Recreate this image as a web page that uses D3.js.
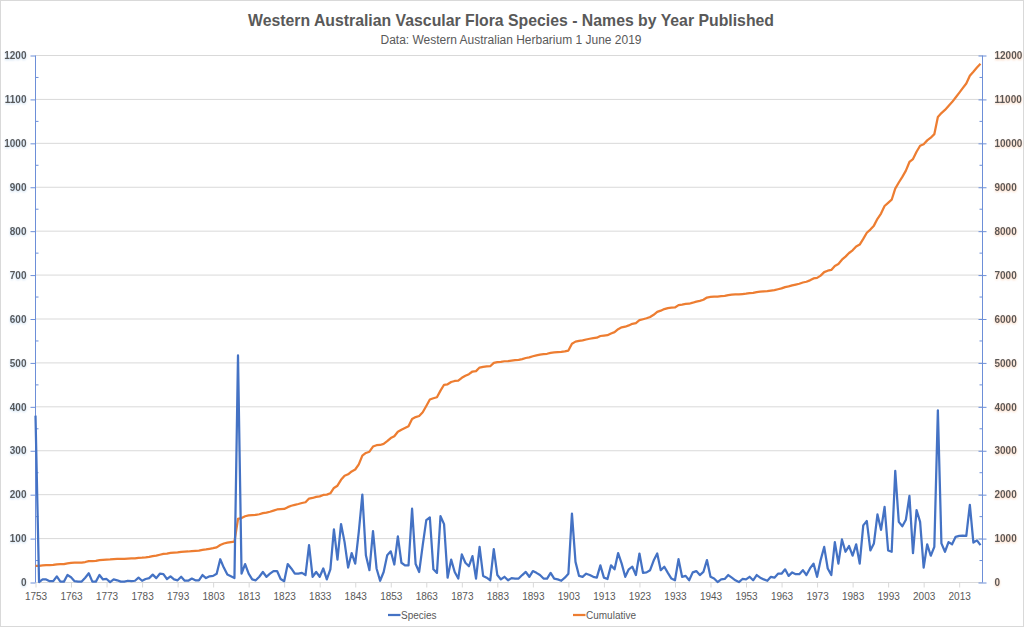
<!DOCTYPE html>
<html><head><meta charset="utf-8">
<script src="https://cdn.jsdelivr.net/npm/d3@7/dist/d3.min.js"></script>
<style>body{margin:0;background:#fff}svg{display:block}</style>
</head><body><svg id="c" width="1024" height="628"></svg>
<script>
const startYear = 1753;
const species = [
380,1,7,7,3,3,14,2,2,17,
12,3,2,2,11,21,2,2,17,7,
8,1,7,5,2,2,4,3,4,11,
4,8,10,18,10,20,19,8,14,7,
5,13,4,4,9,5,5,17,10,14,
15,20,53,34,18,14,10,517,20,42,
20,7,5,13,24,13,20,26,26,8,
3,42,32,20,20,22,17,85,13,24,
13,32,7,30,121,52,133,92,34,67,
43,115,200,62,28,117,32,4,24,62,
71,41,105,45,39,39,168,42,24,85,
142,148,30,22,151,133,11,52,24,9,
64,45,37,60,9,81,15,11,5,76,
17,7,13,5,10,9,9,17,24,13,
26,22,17,9,9,22,9,7,4,11,
20,157,47,15,13,20,17,13,11,39,
11,8,39,30,67,43,13,30,36,17,
66,22,23,28,50,66,28,36,22,9,
5,53,13,15,5,23,26,17,24,51,
13,9,1,7,8,17,11,5,1,8,
7,13,5,17,11,7,4,13,11,20,
20,30,15,23,19,19,28,17,32,43,
13,51,81,32,17,92,43,98,70,83,
61,87,43,130,140,73,89,155,120,172,
73,70,254,138,128,143,197,67,165,138,
34,87,61,81,392,89,70,92,87,104,
106,107,106,177,91,96,85];
const cumulative = [
380,381,388,395,398,401,415,417,419,436,
448,451,453,455,466,487,489,491,508,515,
523,524,531,536,538,540,544,547,551,562,
566,574,584,602,612,632,651,659,673,680,
685,698,702,706,715,720,725,742,752,766,
781,801,854,888,906,920,930,1447,1467,1509,
1529,1536,1541,1554,1578,1591,1611,1637,1663,1671,
1674,1716,1748,1768,1788,1810,1827,1912,1925,1949,
1962,1994,2001,2031,2152,2204,2337,2429,2463,2530,
2573,2688,2888,2950,2978,3095,3127,3131,3155,3217,
3288,3329,3434,3479,3518,3557,3725,3767,3791,3876,
4018,4166,4196,4218,4369,4502,4513,4565,4589,4598,
4662,4707,4744,4804,4813,4894,4909,4920,4925,5001,
5018,5025,5038,5043,5053,5062,5071,5088,5112,5125,
5151,5173,5190,5199,5208,5230,5239,5246,5250,5261,
5281,5438,5485,5500,5513,5533,5550,5563,5574,5613,
5624,5632,5671,5701,5768,5811,5824,5854,5890,5907,
5973,5995,6018,6046,6096,6162,6190,6226,6248,6257,
6262,6315,6328,6343,6348,6371,6397,6414,6438,6489,
6502,6511,6512,6519,6527,6544,6555,6560,6561,6569,
6576,6589,6594,6611,6622,6629,6633,6646,6657,6677,
6697,6727,6742,6765,6784,6803,6831,6848,6880,6923,
6936,6987,7068,7100,7117,7209,7252,7350,7420,7503,
7564,7651,7694,7824,7964,8037,8126,8281,8401,8573,
8646,8716,8970,9108,9236,9379,9576,9643,9808,9946,
9980,10067,10128,10209,10601,10690,10760,10852,10939,11043,
11149,11256,11362,11539,11630,11726,11811];
const years = species.map((d, i) => startYear + i);
const xTickYears = [1753,1763,1773,1783,1793,1803,1813,1823,1833,1843,1853,1863,1873,1883,1893,1903,1913,1923,1933,1943,1953,1963,1973,1983,1993,2003,2013];
const leftTicks = [0,100,200,300,400,500,600,700,800,900,1000,1100,1200];
const rightTicks = [0,1000,2000,3000,4000,5000,6000,7000,8000,9000,10000,11000,12000];
const seriesNames = ["Species", "Cumulative"];
const colors = ["#4472C4", "#ED7D31"];
const titleText = "Western Australian Vascular Flora Species - Names by Year Published";
const subtitleText = "Data: Western Australian Herbarium 1 June 2019";

const svg = d3.select("#c");
const font = "'Liberation Sans', Arial, sans-serif";
const x = d3.scaleLinear().domain([1753, 2019]).range([35.5, 980.5]);
const yL = d3.scaleLinear().domain([0, 1200]).range([582.5, 55.5]);
const yR = d3.scaleLinear().domain([0, 12000]).range([582.5, 55.5]);
const xLeft = 35.5, xRight = 982.5;
const fmt = d3.format("d");

const defs = svg.append("defs");
function glow(id, col) {
  const f = defs.append("filter").attr("id", id).attr("x", "-20%").attr("y", "-40%").attr("width", "140%").attr("height", "180%");
  f.append("feDropShadow").attr("dx", 0).attr("dy", 1).attr("stdDeviation", 1).attr("flood-color", col).attr("flood-opacity", 0.6);
}
glow("gb", "#9dc3e6");
glow("go", "#f4b183");

// border
svg.append("rect").attr("x", 0.5).attr("y", 0.5).attr("width", 1023).attr("height", 626).attr("fill", "#fff").attr("stroke", "#d9d9d9");

// gridlines
svg.append("g").selectAll("line").data(leftTicks.filter(d => d > 0)).join("line")
  .attr("x1", xLeft).attr("x2", xRight).attr("y1", d => yL(d)).attr("y2", d => yL(d))
  .attr("stroke", "#d9d9d9").attr("stroke-width", 1);

// x axis
const xAxis = d3.axisBottom(x).tickValues(xTickYears).tickFormat(fmt).tickSize(5).tickPadding(5);
const gx = svg.append("g").attr("transform", "translate(0,582.5)").call(xAxis);
gx.select(".domain").attr("stroke", "#d9d9d9").attr("d", `M${xLeft},0H${xRight}`);
gx.selectAll(".tick line").attr("stroke", "#d9d9d9");
gx.selectAll("text").attr("fill", "#595959").attr("font-family", font).attr("font-size", 10);

// left axis
const gl = svg.append("g").attr("transform", `translate(${xLeft},0)`)
  .call(d3.axisLeft(yL).tickValues(leftTicks).tickFormat(fmt).tickSize(5).tickPadding(4));
gl.select(".domain").attr("stroke", "#6d8fd8").attr("d", "M0,55.5V582.5");
gl.selectAll(".tick line").attr("stroke", "#6d8fd8");
gl.selectAll("text").attr("fill", "#595959").attr("font-family", font).attr("font-size", 10).attr("font-weight", "bold").attr("filter", "url(#gb)");
svg.append("g").selectAll("line").data(leftTicks.slice(1).map(d => d - 50)).join("line")
  .attr("x1", xLeft).attr("x2", xLeft + 3).attr("y1", d => yL(d)).attr("y2", d => yL(d)).attr("stroke", "#6d8fd8");

// right axis
const gr = svg.append("g").attr("transform", `translate(${xRight},0)`)
  .call(d3.axisRight(yR).tickValues(rightTicks).tickFormat(fmt).tickSize(4).tickPadding(8));
gr.select(".domain").attr("stroke", "#6d8fd8").attr("d", "M0,55.5V582.5");
gr.selectAll(".tick line").attr("stroke", "#6d8fd8").attr("x1", -4);
gr.selectAll("text").attr("fill", "#595959").attr("font-family", font).attr("font-size", 10).attr("font-weight", "bold").attr("filter", "url(#go)");
svg.append("g").selectAll("line").data(rightTicks.slice(1).map(d => d - 500)).join("line")
  .attr("x1", xRight - 3).attr("x2", xRight).attr("y1", d => yR(d)).attr("y2", d => yR(d)).attr("stroke", "#6d8fd8");

// lines
const lineS = d3.line().x((d, i) => x(years[i])).y(d => yL(d));
const lineC = d3.line().x((d, i) => x(years[i])).y(d => yR(d));
svg.append("path").datum(cumulative).attr("d", lineC).attr("fill", "none").attr("stroke", colors[1]).attr("stroke-width", 2.25).attr("stroke-linejoin", "round");
svg.append("path").datum(species).attr("d", lineS).attr("fill", "none").attr("stroke", colors[0]).attr("stroke-width", 2.25).attr("stroke-linejoin", "round");

// title
svg.append("text").attr("x", 511).attr("y", 26).attr("text-anchor", "middle")
  .attr("font-family", font).attr("font-size", 17).attr("font-weight", "bold").attr("fill", "#595959")
  .attr("textLength", 526).attr("lengthAdjust", "spacingAndGlyphs").text(titleText);
svg.append("text").attr("x", 511).attr("y", 43.5).attr("text-anchor", "middle")
  .attr("font-family", font).attr("font-size", 12).attr("fill", "#595959")
  .attr("textLength", 261).attr("lengthAdjust", "spacingAndGlyphs").text(subtitleText);

// legend
const legX = [388, 573];
const lg = svg.append("g").selectAll("g").data(seriesNames).join("g")
  .attr("transform", (d, i) => `translate(${legX[i]},615)`);
lg.append("line").attr("x1", 0).attr("x2", 12.5).attr("y1", 0).attr("y2", 0)
  .attr("stroke", (d, i) => colors[i]).attr("stroke-width", 2.25);
lg.append("text").attr("x", 13).attr("y", 3.5).attr("font-family", font).attr("font-size", 10).attr("fill", "#595959").text(d => d);
</script></body></html>
